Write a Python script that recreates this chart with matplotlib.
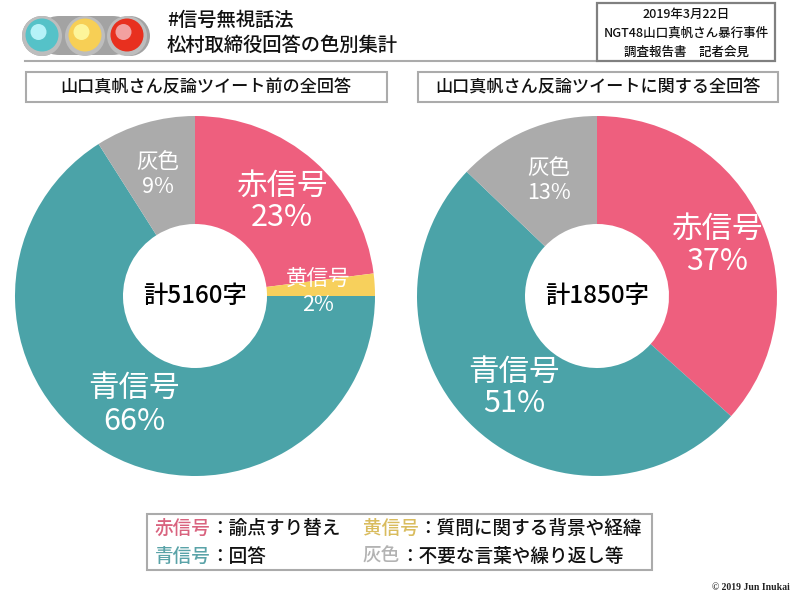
import matplotlib
matplotlib.use('Agg')
import matplotlib.pyplot as plt
from matplotlib.patches import Circle, FancyBboxPatch, Rectangle

plt.rcParams['font.family'] = ['Noto Sans CJK JP', 'DejaVu Sans']
plt.rcParams['font.weight'] = 'medium'

# data
names_left = ['赤信号', '黄信号', '青信号', '灰色']
values_left = [23, 2, 66, 9]
names_right = ['赤信号', '青信号', '灰色']
values_right = [37, 51, 13]
total_left = '計5160字'
total_right = '計1850字'
title_lines = ['#信号無視話法', '松村取締役回答の色別集計']
heading_left = '山口真帆さん反論ツイート前の全回答'
heading_right = '山口真帆さん反論ツイートに関する全回答'
info_lines = ['2019年3月22日', 'NGT48山口真帆さん暴行事件', '調査報告書　記者会見']

RED = '#ee5f7e'
YELLOW = '#f7d05c'
TEAL = '#4ba3a8'
GRAY = '#ababab'
H = 600


def Y(py):
    # picture y (from the top) to axes y
    return H - py


def box(ax, x0, y0, x1, y1, edge, lw=1.5):
    ax.add_patch(Rectangle((x0, Y(y1)), x1 - x0, y1 - y0, facecolor='white', edgecolor=edge, linewidth=lw, zorder=2))


def label(ax, x, y, name, value, size, gap):
    ax.text(x, Y(y), name, color='white', fontsize=size, fontweight='normal', ha='center', va='center', zorder=5)
    ax.text(x, Y(y + gap), '%d%%' % value, color='white', fontsize=size, fontweight='normal', ha='center', va='center', zorder=5)


fig = plt.figure(figsize=(8, 6), dpi=100)
ax = fig.add_axes([0, 0, 1, 1])

# pies
ax.pie(values_left, colors=[RED, YELLOW, TEAL, GRAY], center=(195, Y(296)), radius=180, startangle=90,
       counterclock=False, frame=True, wedgeprops={'width': 108, 'linewidth': 0})
ax.pie(values_right, colors=[RED, TEAL, GRAY], center=(597, Y(296)), radius=180, startangle=90,
       counterclock=False, frame=True, wedgeprops={'width': 108, 'linewidth': 0})
ax.set_xlim(0, 800)
ax.set_ylim(0, H)
ax.set_aspect('auto')
ax.axis('off')

label(ax, 282, 186, names_left[0], values_left[0], 22, 31)
label(ax, 318, 279, names_left[1], values_left[1], 15.5, 26)
label(ax, 134, 388, names_left[2], values_left[2], 22, 33)
label(ax, 158, 162, names_left[3], values_left[3], 15.5, 25)
label(ax, 717, 229, names_right[0], values_right[0], 22, 32)
label(ax, 514, 372, names_right[1], values_right[1], 22, 31)
label(ax, 549, 168, names_right[2], values_right[2], 15.5, 25)
ax.text(195, Y(296), total_left, fontsize=17.5, ha='center', va='center', color='black', zorder=5)
ax.text(597, Y(296), total_right, fontsize=17.5, ha='center', va='center', color='black', zorder=5)

# traffic light
ax.add_patch(FancyBboxPatch((40, Y(55)), 92, 39, boxstyle='round,pad=0,rounding_size=19.5', mutation_aspect=1,
                            facecolor='#a3a3a3', edgecolor='#a3a3a3', linewidth=0))
ax.add_patch(Circle((42, Y(36)), 20, facecolor='#a3a3a3', linewidth=0))
ax.add_patch(Circle((130, Y(36)), 20, facecolor='#a3a3a3', linewidth=0))
for cx, ring, fill, shine in [(42, '#bdbdbd', '#55c2c8', '#b5f2f8'), (85, '#bdbdbd', '#f7cf55', '#fdf59a'),
                              (127, '#bdbdbd', '#e8301f', '#f2a0a0')]:
    ax.add_patch(Circle((cx, Y(36)), 20, facecolor=ring, linewidth=0, zorder=3))
    ax.add_patch(Circle((cx, Y(35)), 16.5, facecolor=fill, linewidth=0, zorder=3))
    ax.add_patch(Circle((cx - 3.5, Y(32)), 8, facecolor=shine, linewidth=0, zorder=3))

# title
ax.text(167, Y(20), title_lines[0], fontsize=13.9, ha='left', va='center', color='#111111')
ax.text(167, Y(45), title_lines[1], fontsize=13.9, ha='left', va='center', color='#111111')
ax.plot([25, 597], [Y(61), Y(61)], color='#ababab', linewidth=1.5, zorder=1)

# top right box
box(ax, 597, 3, 775, 61, '#808080', 1.6)
for py, line in zip([14, 33, 52], info_lines):
    ax.text(686, Y(py), line, fontsize=9, ha='center', va='center', color='#111111', zorder=5)

# headings
box(ax, 26, 72, 387, 102, GRAY)
ax.text(206, Y(88), heading_left, fontsize=12.3, ha='center', va='center', color='#111111', zorder=5)
box(ax, 418, 72, 778, 102, GRAY)
ax.text(598, Y(88), heading_right, fontsize=12.3, ha='center', va='center', color='#111111', zorder=5)

# legend box
box(ax, 147, 514, 652, 570, GRAY)
legend_rows = [
    (155, 528, '赤信号', '#d9637f', '：諭点すり替え', 210),
    (363, 528, '黄信号', '#d9bc5e', '：質問に関する背景や経緯', 418),
    (155, 556, '青信号', '#5aa3a8', '：回答', 210),
    (363, 556, '灰色', '#b3b3b3', '：不要な言葉や繰り返し等', 400),
]
for x, py, name, col, rest, x2 in legend_rows:
    ax.text(x, Y(py), name, fontsize=13.4, color=col, ha='left', va='center', zorder=5)
    ax.text(x2, Y(py), rest, fontsize=13.4, color='#111111', ha='left', va='center', zorder=5)

ax.text(790, Y(587), '© 2019 Jun Inukai', family='Liberation Serif', fontsize=7, fontweight='bold',
        ha='right', va='center', color='#222222')

fig.savefig('out.png', dpi=100)
